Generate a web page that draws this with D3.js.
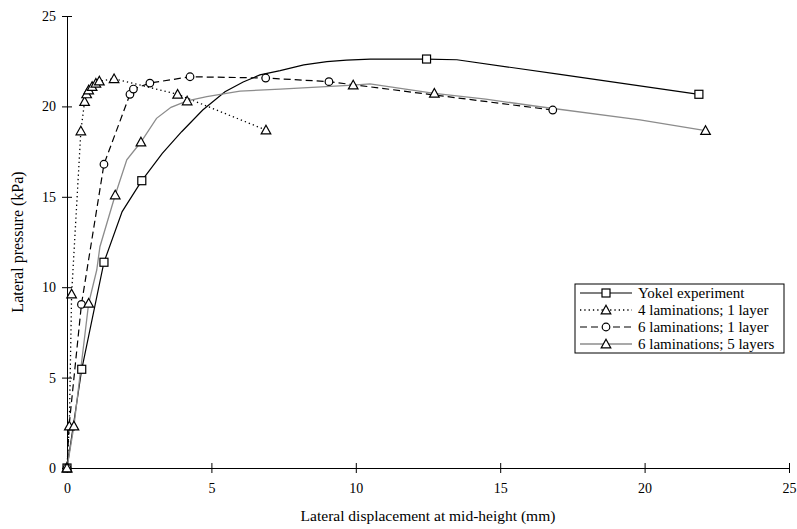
<!DOCTYPE html>
<html>
<head>
<meta charset="utf-8">
<script src="https://cdn.jsdelivr.net/npm/d3@7"></script>
<style>
body { margin: 0; background: #fff; }
svg { display: block; }
text { font-family: "Liberation Serif", "Times New Roman", serif; fill: #000; }
</style>
</head>
<body>
<svg id="chart" width="797" height="529"></svg>
<script>
// ---- data ----
const xTicks = [0, 5, 10, 15, 20, 25];
const yTicks = [0, 5, 10, 15, 20, 25];

const seriesNames = ["Yokel experiment", "4 laminations; 1 layer", "6 laminations; 1 layer", "6 laminations; 5 layers"];

const yokelCurve = [[0,0],[0.51,5.46],[1.28,11.38],[1.91,14.18],[2.59,15.89],[3.3,17.4],[3.97,18.6],[4.7,19.8],[5.47,20.81],[6.1,21.35],[6.68,21.74],[7.38,21.98],[8.2,22.3],[9.0,22.48],[9.68,22.56],[10.5,22.62],[12.45,22.62],[13.5,22.58],[17.07,21.77],[21.88,20.67]];
const yokelMarks = [[0,0],[0.51,5.46],[1.28,11.38],[2.59,15.89],[12.45,22.62],[21.88,20.67]];

const fourLamCurve = [[0,0],[0.08,2.32],[0.16,9.62],[0.48,18.64],[0.61,20.27],[0.68,20.69],[0.75,20.91],[0.87,21.1],[1.0,21.28],[1.12,21.4],[1.63,21.53],[3.83,20.67],[6.89,18.69]];
const fourLamMarks = [[0,0],[0.08,2.32],[0.16,9.62],[0.48,18.64],[0.61,20.27],[0.68,20.69],[0.75,20.91],[0.87,21.1],[1.0,21.28],[1.12,21.4],[1.63,21.53],[3.83,20.67],[6.89,18.69]];

const sixLamCurve = [[0,0],[0.07,2.3],[0.5,9.05],[1.28,16.8],[2.18,20.67],[2.3,20.96],[2.87,21.29],[4.26,21.64],[6.88,21.57],[9.07,21.37],[16.82,19.8]];
const sixLamMarks = [[0,0],[0.5,9.05],[1.28,16.8],[2.18,20.67],[2.3,20.96],[2.87,21.29],[4.26,21.64],[6.88,21.57],[9.07,21.37],[16.82,19.8]];

const fiveLayerCurve = [[0,0],[0.24,2.32],[0.75,9.11],[1.03,10.95],[1.14,12.24],[1.67,15.1],[2.07,17.04],[2.56,18.03],[3.1,19.34],[3.6,19.95],[4.16,20.3],[4.84,20.54],[5.99,20.85],[7.38,20.95],[9.91,21.18],[10.49,21.25],[12.72,20.72],[14.5,20.4],[16.38,19.98],[19.84,19.25],[22.11,18.66]];
const fiveLayerMarks = [[0,0],[0.24,2.32],[0.75,9.11],[1.67,15.1],[2.56,18.03],[4.16,20.3],[9.91,21.18],[12.72,20.72],[22.11,18.66]];

// ---- layout ----
const FONT = '"Liberation Serif", "Times New Roman", serif';
const svg = d3.select("#chart");
const x = d3.scaleLinear().domain([0, 25]).range([67, 789]);
const y = d3.scaleLinear().domain([0, 25]).range([468, 16]);

// axes
const xAxis = d3.axisBottom(x).tickValues(xTicks).tickSizeInner(5).tickSizeOuter(0).tickPadding(10);
const yAxis = d3.axisLeft(y).tickValues(yTicks).tickSizeInner(5).tickSizeOuter(0).tickPadding(6);

const gx = svg.append("g").attr("transform", `translate(0,${y(0)})`).call(xAxis);
const gy = svg.append("g").attr("transform", `translate(${x(0)},0)`).call(yAxis);
[gx, gy].forEach(g => {
  g.attr("font-family", FONT).attr("font-size", 14);
  g.select(".domain").attr("stroke", "#000").attr("stroke-width", 1);
  g.selectAll(".tick line").attr("stroke", "#000");
  g.selectAll(".tick text").style("font-family", FONT).style("font-size", "14px").attr("fill", "#000");
});
// ticks crossing the axis
gx.selectAll(".tick line").attr("y1", -5).attr("y2", 5);
gy.selectAll(".tick line").attr("x1", -5).attr("x2", 5);

// axis titles
svg.append("text").attr("x", 428).attr("y", 521).attr("text-anchor", "middle")
  .style("font-family", FONT).style("font-size", "15.5px").text("Lateral displacement at mid-height (mm)");
svg.append("text").attr("transform", `translate(23,${(y(0)+y(25))/2}) rotate(-90)`).attr("text-anchor", "middle")
  .style("font-family", FONT).style("font-size", "16px").text("Lateral pressure (kPa)");

// series
const line = d3.line().x(d => x(d[0])).y(d => y(d[1]));
const styles = [
  { curve: yokelCurve, marks: yokelMarks, stroke: "#000", width: 1.2, dash: null, marker: "square" },
  { curve: fourLamCurve, marks: fourLamMarks, stroke: "#000", width: 1.3, dash: "1.3,3", marker: "triangle" },
  { curve: sixLamCurve, marks: sixLamMarks, stroke: "#000", width: 1.2, dash: "7,4", marker: "circle" },
  { curve: fiveLayerCurve, marks: fiveLayerMarks, stroke: "#8c8c8c", width: 1.3, dash: null, marker: "triangle" }
];

function drawMarker(g, type, cx, cy) {
  if (type === "square") {
    g.append("rect").attr("x", cx - 4).attr("y", cy - 4).attr("width", 8).attr("height", 8)
      .attr("fill", "#fff").attr("stroke", "#000").attr("stroke-width", 1.2);
  } else if (type === "circle") {
    g.append("circle").attr("cx", cx).attr("cy", cy).attr("r", 3.8)
      .attr("fill", "#fff").attr("stroke", "#000").attr("stroke-width", 1.2);
  } else {
    const s = 4.8;
    g.append("path").attr("d", `M${cx},${cy - s}L${cx + s},${cy + s * 0.8}L${cx - s},${cy + s * 0.8}Z`)
      .attr("fill", "#fff").attr("stroke", "#000").attr("stroke-width", 1.2);
  }
}

const plot = svg.append("g");
styles.forEach(s => {
  plot.append("path").datum(s.curve).attr("d", line).attr("fill", "none")
    .attr("stroke", s.stroke).attr("stroke-width", s.width)
    .attr("stroke-dasharray", s.dash);
});
styles.forEach(s => {
  const g = plot.append("g");
  s.marks.forEach(d => drawMarker(g, s.marker, x(d[0]), y(d[1])));
});

// legend
const lg = svg.append("g");
const lx = 575, ly = 284, lw = 209, rowH = 17;
lg.append("rect").attr("x", lx).attr("y", ly).attr("width", lw).attr("height", rowH * 4 + 1)
  .attr("fill", "#fff").attr("stroke", "#000").attr("stroke-width", 1);
styles.forEach((s, i) => {
  const cy = ly + 9 + i * rowH;
  lg.append("line").attr("x1", lx + 5).attr("x2", lx + 57).attr("y1", cy).attr("y2", cy)
    .attr("stroke", s.stroke).attr("stroke-width", s.width).attr("stroke-dasharray", s.dash);
  drawMarker(lg, s.marker, lx + 31, cy);
  lg.append("text").attr("x", lx + 63).attr("y", cy + 5).style("font-family", FONT).style("font-size", "15px").text(seriesNames[i]);
});
</script>
</body>
</html>
